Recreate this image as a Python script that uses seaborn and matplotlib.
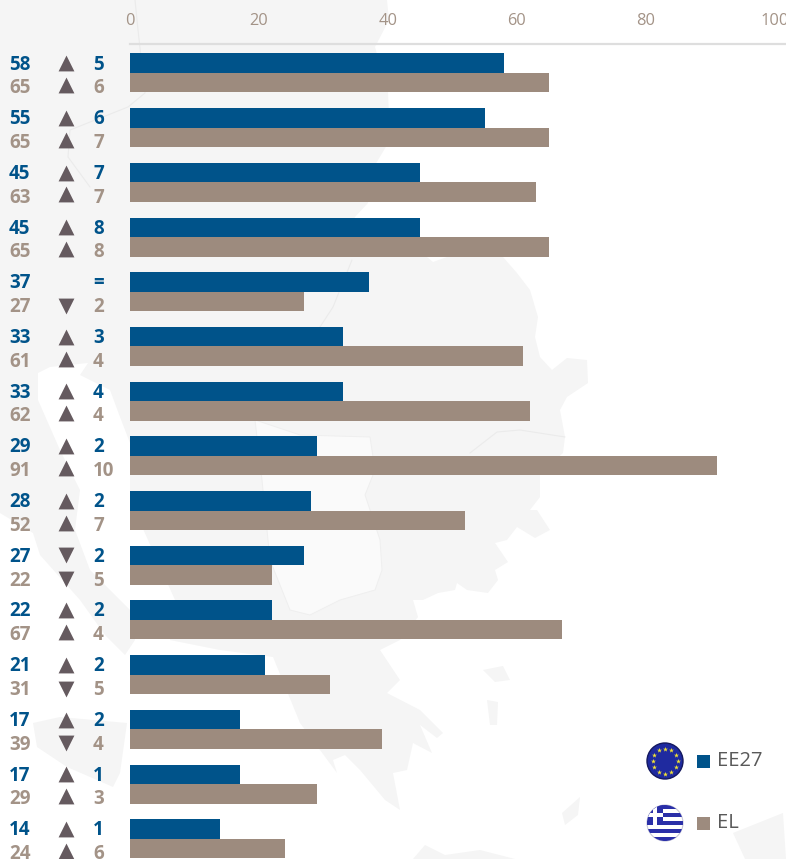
import numpy as np
import pandas as pd
import seaborn as sns
import matplotlib.pyplot as plt
from matplotlib.patches import Circle, Polygon, Rectangle
from matplotlib.transforms import blended_transform_factory

# chart values, top to bottom
items = [f"item {i}" for i in range(1, 16)]
ee27 = [58, 55, 45, 45, 37, 33, 33, 29, 28, 27, 22, 21, 17, 17, 14]
el = [65, 65, 63, 65, 27, 61, 62, 91, 52, 22, 67, 31, 39, 29, 24]
ee27_change = ["5", "6", "7", "8", "=", "3", "4", "2", "2", "2", "2", "2", "2", "1", "1"]
el_change = ["6", "7", "7", "8", "2", "4", "4", "10", "7", "5", "4", "5", "4", "3", "6"]
ee27_dir = ["^", "^", "^", "^", "", "^", "^", "^", "^", "v", "^", "^", "^", "^", "^"]
el_dir = ["^", "^", "^", "^", "v", "^", "^", "^", "^", "v", "^", "v", "v", "^", "^"]
ticks = [0, 20, 40, 60, 80, 100]

BLUE = "#00538a"
BROWN = "#9d8b7e"
BROWN_TXT = "#a39387"
MARK = "#655a5f"
LAND = "#f5f5f5"

# backdrop map, pixel coordinates of the picture
land = [
    [(0, 0), (387, 0), (389, 20), (375, 47), (388, 92), (390, 140), (375, 165), (368, 203), (355, 217),
     (345, 240), (375, 250), (427, 257), (433, 262), (447, 257), (503, 257), (517, 273), (530, 290),
     (538, 317), (535, 337), (540, 357), (552, 370), (567, 358), (587, 360), (588, 383), (567, 397),
     (560, 410), (565, 437), (563, 453), (540, 473), (540, 497), (530, 510), (537, 510), (550, 530),
     (535, 538), (517, 527), (507, 540), (495, 543), (508, 562), (495, 570), (498, 580), (488, 593),
     (467, 590), (457, 583), (455, 590), (438, 593), (423, 600), (413, 600), (418, 617), (400, 640),
     (380, 650), (400, 680), (387, 693), (420, 710), (443, 733), (437, 738), (420, 725), (432, 753),
     (413, 743), (407, 770), (393, 773), (400, 810), (385, 800), (360, 770), (345, 755), (333, 760),
     (337, 773), (300, 723), (273, 657), (220, 650), (170, 640), (175, 600), (130, 500), (130, 443),
     (120, 417), (110, 390), (80, 375), (88, 363), (50, 367), (38, 373), (38, 400), (60, 450), (80, 490),
     (75, 530), (90, 570), (130, 610), (135, 640), (125, 655), (105, 635), (80, 600), (40, 555),
     (33, 533), (0, 513)],
    [(33, 723), (60, 717), (127, 723), (120, 773), (113, 787), (97, 780), (67, 767), (37, 747)],
    [(562, 813), (580, 797), (578, 815), (565, 825)],
    [(733, 833), (783, 813), (786, 859), (745, 859)],
    [(483, 670), (503, 666), (510, 680), (495, 682)],
    [(487, 700), (498, 702), (497, 725), (490, 725)],
    [(413, 859), (425, 845), (445, 855), (480, 850), (515, 859)],
]
lighter = [(255, 420), (300, 435), (370, 437), (375, 470), (365, 495), (380, 540), (382, 570), (375, 590),
           (340, 600), (310, 615), (290, 610), (270, 560), (262, 480)]
borders = [
    [(135, 0), (138, 30), (145, 93), (128, 107), (70, 130), (68, 157), (90, 187)],
    [(352, 260), (333, 307), (320, 327)],
    [(565, 437), (520, 430), (497, 432), (470, 453)],
]

df = pd.DataFrame({
    "item": items * 2,
    "value": ee27 + el,
    "group": ["EE27"] * len(items) + ["EL"] * len(items),
})

sns.set_theme(style="white")
plt.rcParams["font.family"] = ["Open Sans", "DejaVu Sans"]

fig = plt.figure(figsize=(7.86, 8.59), dpi=100, facecolor="white")

bg = fig.add_axes([0, 0, 1, 1], zorder=0)
bg.set_xlim(0, 786)
bg.set_ylim(859, 0)
bg.axis("off")
for pts in land:
    bg.add_patch(Polygon(pts, closed=True, facecolor=LAND, edgecolor="none"))
bg.add_patch(Polygon(lighter, closed=True, facecolor="#fafafa", edgecolor="#efefef", lw=0.7))
for line in borders:
    bg.plot(*zip(*line), color="#ebebeb", lw=0.8)

# main chart
ax = fig.add_axes([130 / 786, 0, 656 / 786, 815 / 859], zorder=1)
ax.patch.set_alpha(0)
sns.barplot(data=df, y="item", x="value", hue="group", palette={"EE27": BLUE, "EL": BROWN},
            width=0.713, gap=0, saturation=1, legend=False, linewidth=0, edgecolor="none", ax=ax)
ax.set_xlim(0, 656 / 6.45)
ax.set_ylim(14.37, -0.53)
ax.set_xlabel("")
ax.set_ylabel("")
ax.set_yticks([])
ax.xaxis.tick_top()
ax.set_xticks(ticks)
ax.tick_params(axis="x", length=0, pad=11, labelsize=11.8, labelcolor=BROWN_TXT)
for side in ["left", "right", "bottom"]:
    ax.spines[side].set_visible(False)
ax.spines["top"].set_color("#dedede")
ax.spines["top"].set_linewidth(1.6)

# value columns left of the bars
trans = blended_transform_factory(bg.transData, ax.transData)
for i in range(len(items)):
    y1 = i - 0.165
    y2 = i + 0.27
    for y, val, chg, mark, col in [(y1, ee27[i], ee27_change[i], ee27_dir[i], BLUE),
                                   (y2, el[i], el_change[i], el_dir[i], BROWN_TXT)]:
        ax.text(9, y + 0.01, str(val), transform=trans, color=col, fontsize=13.5, fontweight="bold",
                va="center", ha="left", clip_on=False)
        ax.text(93, y + 0.01, chg, transform=trans, color=col, fontsize=13.5, fontweight="bold",
                va="center", ha="left", clip_on=False)
        if mark:
            # up triangles of the lower row sit a little higher than their text
            shift = -0.05 if (mark == "^" and y == y2) else -0.015
            ax.scatter([66], [y + shift], marker=mark, s=130, color=MARK, linewidths=0,
                       transform=trans, clip_on=False)

# legend with round flags
ov = fig.add_axes([0, 0, 1, 1], zorder=2)
ov.set_xlim(0, 786)
ov.set_ylim(859, 0)
ov.axis("off")

ov.add_patch(Circle((665, 761), 18, facecolor="#1f2a9f", edgecolor="#14195f", lw=1))
angles = np.deg2rad(np.arange(0, 360, 30))
ov.scatter(665 + 12.5 * np.cos(angles), 761 + 12.5 * np.sin(angles), marker="*", s=14,
           color="#f4e434", linewidths=0, zorder=3)

gr = Circle((665, 823), 18, facecolor="white", edgecolor="#c8c8d8", lw=0.8)
ov.add_patch(gr)
for k in range(0, 9, 2):
    stripe = Rectangle((647, 805 + k * 4), 36, 4, facecolor="#2a2fa8", edgecolor="none", zorder=3)
    ov.add_patch(stripe)
    stripe.set_clip_path(gr)
canton = Rectangle((647, 805), 16, 20, facecolor="#2a2fa8", edgecolor="none", zorder=3)
ov.add_patch(canton)
canton.set_clip_path(gr)
for rect in [(647, 813, 16, 4), (653, 805, 4, 20)]:
    cross = Rectangle(rect[:2], rect[2], rect[3], facecolor="white", edgecolor="none", zorder=4)
    ov.add_patch(cross)
    cross.set_clip_path(gr)

for y, col, name in [(761, BLUE, "EE27"), (823, BROWN, "EL")]:
    ov.add_patch(Rectangle((697, y - 6.5), 13, 13, facecolor=col, edgecolor="none"))
    ov.text(717, y, name, color="#595959", fontsize=14.5, va="center", ha="left")

fig.savefig("out.png", dpi=100)
